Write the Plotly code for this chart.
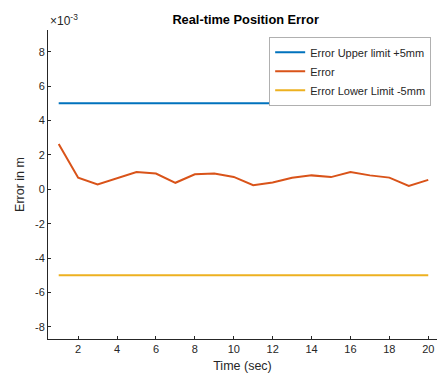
import plotly.graph_objects as go

time_sec = list(range(1, 21))
error_m = [0.00263, 0.00067, 0.00028, 0.00063, 0.00100, 0.00092, 0.00038, 0.00087, 0.00092, 0.00072,
           0.00024, 0.00040, 0.00067, 0.00081, 0.00071, 0.00100, 0.00081, 0.00068, 0.00020, 0.00055]
upper_limit = [0.005] * 20
lower_limit = [-0.005] * 20
y_ticks = [-0.008, -0.006, -0.004, -0.002, 0, 0.002, 0.004, 0.006, 0.008]
y_tick_text = ["-8", "-6", "-4", "-2", "0", "2", "4", "6", "8"]
x_ticks = [2, 4, 6, 8, 10, 12, 14, 16, 18, 20]

FONT = "Liberation Sans, Arial, sans-serif"
AX = "#262626"

fig = go.Figure()
fig.add_trace(go.Scatter(x=time_sec, y=upper_limit, mode="lines", name="Error Upper limit +5mm",
                         line=dict(color="#0072BD", width=2)))
fig.add_trace(go.Scatter(x=time_sec, y=error_m, mode="lines", name="Error",
                         line=dict(color="#D95319", width=2)))
fig.add_trace(go.Scatter(x=time_sec, y=lower_limit, mode="lines", name="Error Lower Limit -5mm",
                         line=dict(color="#EDB120", width=2)))

fig.update_layout(
    width=438, height=379,
    margin=dict(l=48, r=1, t=30, b=40),
    paper_bgcolor="white", plot_bgcolor="white",
    font=dict(family=FONT, size=11, color=AX),
    title=dict(text="<b>Real-time Position Error</b>", x=0.5608, xanchor="center",
               y=0.948, yanchor="middle", font=dict(size=12.8, color="black")),
    showlegend=True,
    legend=dict(x=0.985, xanchor="right", y=0.978, yanchor="top",
                bgcolor="white", bordercolor="#b0b0b0", borderwidth=1,
                font=dict(size=11, color=AX), tracegroupgap=0, itemwidth=30),
    xaxis=dict(range=[0.45, 20.45], tickvals=x_ticks, ticks="inside", ticklen=3,
               tickcolor=AX, showline=True, linecolor=AX, linewidth=1,
               showgrid=False, zeroline=False,
               title=dict(text="Time (sec)", font=dict(size=12.5, color=AX), standoff=7)),
    yaxis=dict(range=[-0.0087, 0.00926], tickvals=y_ticks, ticktext=y_tick_text,
               ticks="inside", ticklen=3, tickcolor=AX, showline=True, linecolor=AX,
               linewidth=1, showgrid=False, zeroline=False,
               title=dict(text="Error in m", font=dict(size=12.5, color=AX), standoff=7)),
)

fig.add_annotation(text="×10<sup>-3</sup>", xref="paper", yref="paper", x=0.0, y=1.0,
                   xanchor="left", yanchor="bottom", showarrow=False,
                   font=dict(size=12, color=AX, family=FONT))

fig.write_html("out.html", config={"displayModeBar": False},
               post_script="document.body.style.margin='0px';")
